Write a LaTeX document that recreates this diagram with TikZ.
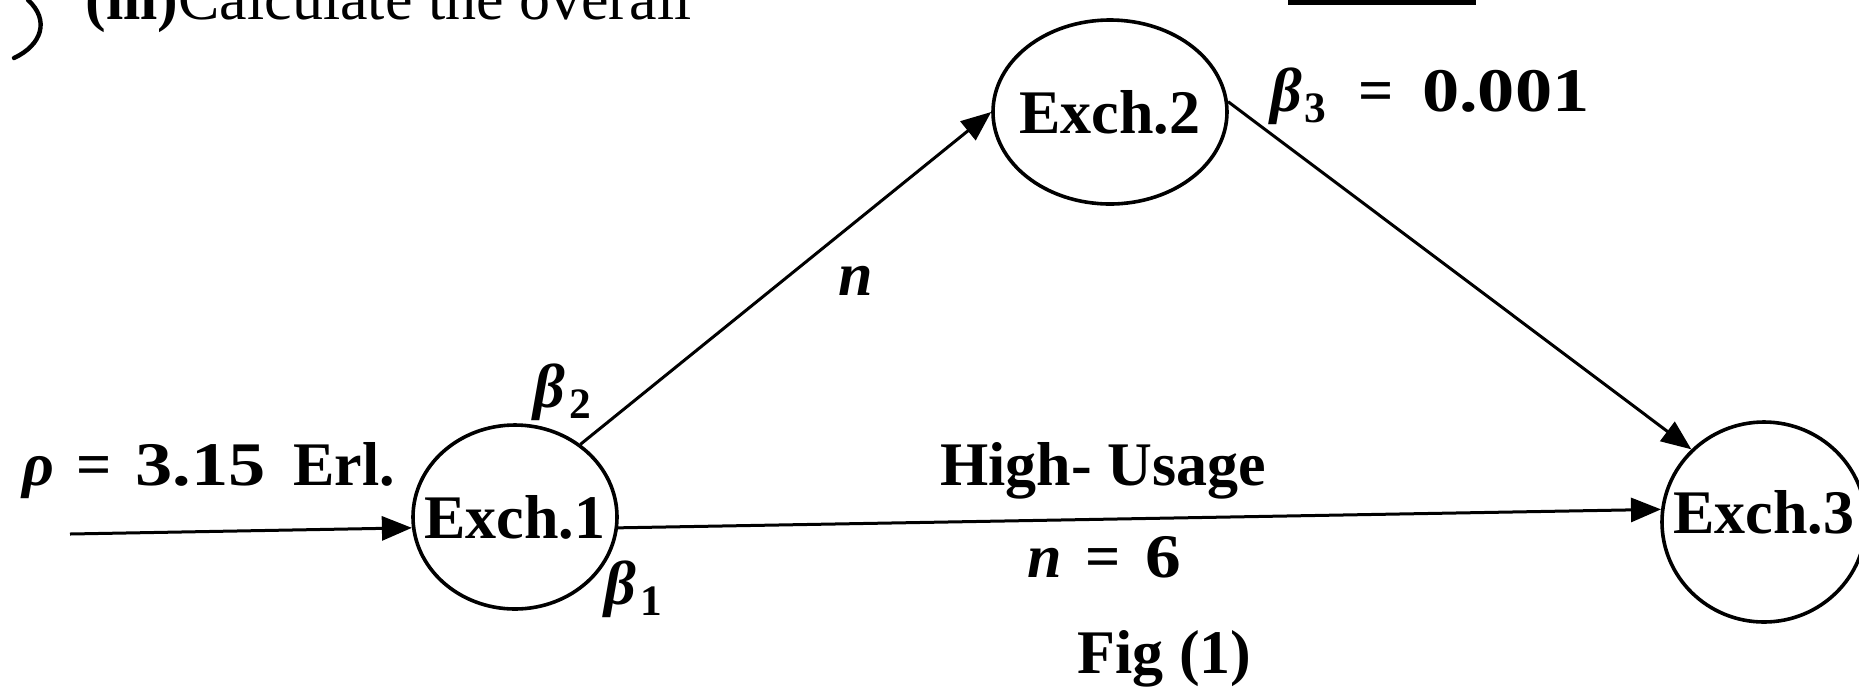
\documentclass[tikz,border=0pt]{standalone}
\usepackage{graphicx}
\usepackage{fontspec}
\setmainfont{Liberation Serif}
\usetikzlibrary{shapes.geometric,arrows.meta}
\begin{document}
\begin{tikzpicture}[x=0.5pt,y=-0.5pt,
  exch/.style={draw, ellipse, line width=1.8pt, inner sep=0pt,
    font=\bfseries\fontsize{31}{37}\selectfont},
  conn/.style={line width=1.5pt, -{Triangle[length=15pt,width=12pt]}},
  lbl/.style={anchor=base west, inner sep=0pt,
    font=\bfseries\fontsize{31}{37}\selectfont},
  hdr/.style={anchor=base west, inner sep=0pt,
    font=\fontsize{31}{37}\selectfont},
]
\useasboundingbox (0,0) rectangle (1859,698);

% header fragment (cut off at the top, as in the reference)
\node[hdr] (head) at (85,19) {\textbf{(iii)}Calculate the overall};
\draw[line width=2.5pt] (1288,2) -- (1476,2);
\draw[line width=2.2pt, line cap=round] (28,0) .. controls (50,20) and (42,45) .. (14,58);

% exchanges
\node[exch, minimum width=102pt, minimum height=92pt] (e1) at (515,517) {\makebox[0pt]{Exch.1}};
\node[exch, minimum width=117pt, minimum height=92pt] (e2) at (1110,112) {\makebox[0pt]{Exch.2}};
\node[exch, minimum width=102pt, minimum height=100pt] (e3) at (1764,522) {\makebox[0pt]{\raisebox{10pt}{Exch.3}}};

% connectors
\coordinate (in) at (70,534);
\draw[conn] (in) -- (e1.186);
\draw[conn] (e1.354) -- (e3.173);
\draw[conn] (e1.48) -- (e2.180);
\draw[conn] (e2.5) -- (e3.135);

% labels
\node[lbl] (rho) at (22,485) {{\itshape ρ}\hspace{11pt}=\hspace{12pt}\scalebox{1.2}[1]{3.15}\hspace{6pt} Erl.};
\node[lbl] (b2) at (533,407) {{\itshape β}\hspace{2pt}\textsubscript{2}};
\node[lbl] (b1) at (604,604) {{\itshape β}\hspace{2pt}\textsubscript{1}};
\node[lbl] (b3) at (1270,111) {{\itshape β}\hspace{1pt}\textsubscript{3}\hspace{16pt}=\hspace{14pt}\scalebox{1.2}[1]{0.001}};
\node[lbl] (nn) at (838,295) {\itshape n};
\node[lbl] (hu) at (940,485) {High- Usage};
\node[lbl] (n6) at (1027,577) {{\itshape n}\hspace{12pt}=\hspace{12pt}\scalebox{1.15}[1]{6}};
\node[lbl] (fig) at (1077,673) {Fig (1)};
\end{tikzpicture}
\end{document}
